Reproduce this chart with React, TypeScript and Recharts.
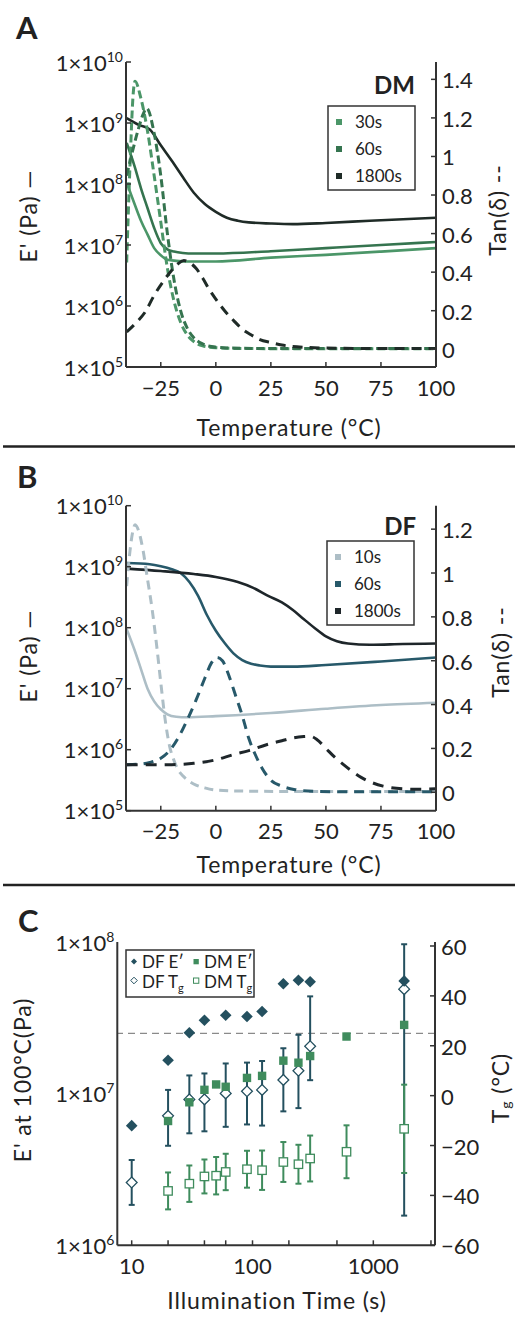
import React from 'react';
import { ComposedChart, Line, Scatter, XAxis, YAxis, ErrorBar, ReferenceLine } from 'recharts';

const FONT = 'Lato, "Open Sans", sans-serif';
const INK = '#222';
const AXIS = '#333';
const TICK_SIZE = 22;
const TITLE_SIZE = 23;

// ---- Panel A (DM) : storage modulus E' (Pa) vs temperature ----
const dm30Temp = [-40.5, -37, -34, -31, -28, -25, -22, -18, -13, 0, 25, 50, 75, 100];
const dm30Modulus = [1.05e8, 4.8e7, 2.5e7, 1.48e7, 8.9e6, 6.8e6, 5.75e6, 5.5e6, 5.37e6, 5.37e6, 6.2e6, 6.9e6, 7.8e6, 8.9e6];
const dm60Temp = [-40.5, -37, -34, -31, -28, -25, -22, -19, -15, -10, 0, 25, 50, 75, 100];
const dm60Modulus = [4.7e8, 2.0e8, 8.5e7, 4.0e7, 1.9e7, 1.07e7, 8.5e6, 7.8e6, 7.4e6, 7.25e6, 7.25e6, 7.9e6, 8.9e6, 1.0e7, 1.12e7];
const dm1800Temp = [-40.5, -35, -30, -25, -20, -15, -10, -5, 0, 5, 10, 15, 25, 35, 50, 70, 100];
const dm1800Modulus = [1.2e9, 9.3e8, 7.8e8, 4.3e8, 2.4e8, 1.3e8, 7.2e7, 4.7e7, 3.5e7, 2.8e7, 2.5e7, 2.35e7, 2.25e7, 2.2e7, 2.3e7, 2.5e7, 2.8e7];

// Panel A tan(delta)
const dm30TanTemp = [-40.5, -39, -37.5, -36.7, -34, -31, -28, -25, -22, -19, -16, -13, -10, -6, 0, 10, 30, 60, 100];
const dm30Tan = [0.45, 0.95, 1.33, 1.39, 1.3, 1.13, 0.9, 0.66, 0.42, 0.25, 0.14, 0.075, 0.04, 0.018, 0.008, 0.004, 0.003, 0.003, 0.003];
const dm60TanTemp = [-40.5, -38, -35, -33, -31.4, -28, -25, -22, -19, -16, -13, -10, -6, -2, 5, 20, 50, 100];
const dm60Tan = [0.9, 1.02, 1.15, 1.22, 1.25, 1.12, 0.9, 0.6, 0.36, 0.2, 0.11, 0.06, 0.028, 0.014, 0.007, 0.004, 0.004, 0.004];
const dm1800TanTemp = [-40.5, -36, -32, -28, -24, -20, -17, -14.5, -12, -9, -6, -3, 0, 4, 8, 12, 16, 20, 25, 30, 38, 50, 70, 100];
const dm1800Tan = [0.09, 0.14, 0.195, 0.28, 0.35, 0.41, 0.445, 0.46, 0.45, 0.42, 0.37, 0.31, 0.26, 0.2, 0.15, 0.105, 0.075, 0.05, 0.035, 0.022, 0.012, 0.006, 0.004, 0.004];

// ---- Panel B (DF) ----
const df10Temp = [-40.5, -37, -34, -31, -28, -25, -22, -18, -13, 0, 25, 50, 75, 100];
const df10Modulus = [9.5e7, 4.4e7, 2.1e7, 1.0e7, 6.2e6, 4.6e6, 3.8e6, 3.47e6, 3.4e6, 3.55e6, 4.0e6, 4.7e6, 5.4e6, 5.9e6];
const df60Temp = [-40.5, -30, -25, -20, -16, -12, -8, -4, 0, 4, 8, 12, 16, 20, 25, 35, 50, 75, 100];
const df60Modulus = [1.15e9, 1.1e9, 1.02e9, 9.1e8, 7.9e8, 5.6e8, 3.3e8, 1.6e8, 8.9e7, 5.6e7, 3.8e7, 2.95e7, 2.57e7, 2.4e7, 2.3e7, 2.3e7, 2.45e7, 2.8e7, 3.25e7];
const df1800Temp = [-40.5, -25, -10, 0, 10, 17, 24, 30, 35, 40, 45, 50, 55, 60, 70, 85, 100];
const df1800Modulus = [9.3e8, 8.5e8, 7.6e8, 6.8e8, 5.6e8, 4.5e8, 3.3e8, 2.6e8, 1.95e8, 1.38e8, 9.8e7, 7.2e7, 6.0e7, 5.5e7, 5.25e7, 5.4e7, 5.5e7];

const df10TanTemp = [-40.5, -39, -37.5, -36.7, -35, -33, -31, -29, -27, -25, -23, -21, -19, -17, -15, -12, -9, -5, 0, 10, 30, 60, 100];
const df10Tan = [0.94, 1.1, 1.2, 1.22, 1.19, 1.1, 0.97, 0.84, 0.68, 0.5, 0.33, 0.21, 0.145, 0.1, 0.075, 0.05, 0.033, 0.02, 0.01, 0.006, 0.004, 0.004, 0.004];
const df60TanTemp = [-40.5, -35, -30, -25, -21, -17, -13, -9, -5, -2, 0.5, 3, 6, 9, 12, 15, 18, 21, 25, 30, 36, 45, 60, 100];
const df60Tan = [0.126, 0.128, 0.136, 0.155, 0.19, 0.25, 0.33, 0.42, 0.52, 0.59, 0.615, 0.6, 0.53, 0.44, 0.35, 0.245, 0.17, 0.11, 0.055, 0.028, 0.012, 0.004, 0.002, 0.002];
const df1800TanTemp = [-40.5, -30, -20, -10, 0, 8, 15, 23, 30, 35, 40, 43, 46, 50, 54, 58, 62, 66, 70, 76, 82, 90, 100];
const df1800Tan = [0.126, 0.125, 0.126, 0.132, 0.148, 0.172, 0.19, 0.217, 0.235, 0.248, 0.254, 0.255, 0.24, 0.2, 0.16, 0.126, 0.095, 0.068, 0.048, 0.028, 0.018, 0.014, 0.016];

// ---- Panel C : E' at 100 C and Tg vs illumination time ----
const dfTimes = [10, 20, 30, 40, 60, 90, 120, 180, 240, 300, 1800];
const dfModulus = [6.15e6, 1.66e7, 2.52e7, 3.05e7, 3.29e7, 3.23e7, 3.48e7, 5.3e7, 5.59e7, 5.47e7, 5.54e7];
const dfTg = [-34.8, -8.1, -1.5, -1.5, 0.9, 1.75, 2.3, 6.3, 10, 19.8, 42.7];
const dfTgErrLow = [9, 12, 13.6, 12.8, 13.4, 13.3, 14.3, 12.6, 15, 13.6, 90.8];
const dfTgErrHigh = [9, 10.4, 9.6, 10.4, 12, 11.5, 11.6, 12.7, 14.4, 20, 18];
const dmTimes = [20, 30, 40, 50, 60, 90, 120, 180, 240, 300, 600, 1800];
const dmModulus = [6.6e6, 8.77e6, 1.06e7, 1.15e7, 1.11e7, 1.27e7, 1.31e7, 1.65e7, 1.6e7, 1.77e7, 2.38e7, 2.84e7];
const dmTg = [-38.2, -35.3, -32.4, -32.1, -30.6, -29.5, -29.9, -26.6, -27.5, -25.2, -22.5, -13.3];
const dmTgErr = [7.4, 7.3, 6.8, 7.5, 7.3, 7.4, 7.9, 8, 7.8, 9.2, 10.6, 17.7];

// ticks
const tempTicks = [-25, 0, 25, 50, 75, 100];
const modulusTicks = [1e5, 1e6, 1e7, 1e8, 1e9, 1e10];
const tanTicksA = [0, 0.2, 0.4, 0.6, 0.8, 1, 1.2, 1.4];
const tanTicksB = [0, 0.2, 0.4, 0.6, 0.8, 1, 1.2];
const timeTicks = [10, 20, 30, 40, 50, 60, 70, 80, 90, 100, 200, 300, 400, 500, 600, 700, 800, 900, 1000, 2000, 3000];
const timeLabels = [10, 100, 1000];
const eTicksC = [1e6, 1e7, 1e8];
const tgTicks = [-60, -40, -20, 0, 20, 40, 60];

const DM30 = '#4b9668';
const DM60 = '#35744f';
const DM1800 = '#1f2b27';
const DF10 = '#adbec6';
const DF60 = '#27596a';
const DF1800 = '#1e262a';
const DF_MARK = '#24505f';
const DM_MARK = '#3f8c5d';

const rows = (xs: number[], ys: number[]) => xs.map((t, i) => ({ t, v: ys[i] }));
const minus = (v: number) => String(v).replace('-', '\u2212');

const PowerTick = ({ x, y, payload }: any) => (
  <text x={x - 3} y={y + 8.5} textAnchor="end" fontFamily={FONT} fontSize={TICK_SIZE} fill={INK}>
    1×10
    <tspan dy={-9} fontSize={14}>{Math.round(Math.log10(payload.value))}</tspan>
  </text>
);

const RightTick = ({ x, y, payload }: any) => (
  <text x={x + 6} y={y + 9} textAnchor="start" fontFamily={FONT} fontSize={TICK_SIZE} fill={INK}>
    {minus(payload.value)}
  </text>
);

// labels only for the listed values (log axis has unlabelled minor ticks)
const makeBottomTick = (labelled?: number[]) => ({ x, y, payload }: any) => {
  const v = payload.value;
  if (labelled && !labelled.includes(v)) return <g />;
  return (
    <text x={x} y={y + 28.5} textAnchor="middle" fontFamily={FONT} fontSize={TICK_SIZE} fill={INK}>
      {minus(v)}
    </text>
  );
};
const TempTick = makeBottomTick();
const TimeTick = makeBottomTick(timeLabels);

type Curve = { temp: number[]; values: number[]; color: string; axis: 'mod' | 'tan'; dash?: string };

const tickProps = { tickSize: -5, tickMargin: 5, tickLine: { stroke: AXIS, strokeWidth: 1.5 }, axisLine: { stroke: AXIS, strokeWidth: 2 } };

const DmaPanel = ({ curves, tanDomain, tanTicks, height, top }: { curves: Curve[]; tanDomain: number[]; tanTicks: number[]; height: number; top: number }) => (
  <ComposedChart width={515} height={height} margin={{ top, right: 29, bottom: height - top - 305 - 40, left: 46 }}>
    <XAxis dataKey="t" type="number" domain={[-40.8, 100]} ticks={tempTicks} allowDataOverflow height={40} tick={<TempTick />} {...tickProps} />
    <XAxis xAxisId="top" orientation="top" type="number" domain={[0, 1]} height={0} tick={false} tickLine={false} axisLine={{ stroke: AXIS, strokeWidth: 2 }} />
    <YAxis yAxisId="mod" scale="log" type="number" domain={[1e5, 1e10]} ticks={modulusTicks} allowDataOverflow width={80} tick={<PowerTick />} {...tickProps} />
    <YAxis yAxisId="tan" orientation="right" type="number" domain={tanDomain} ticks={tanTicks} allowDataOverflow width={50} tick={<RightTick />} {...tickProps} />
    {curves.map((c, i) => (
      <Line
        key={i}
        yAxisId={c.axis}
        data={rows(c.temp, c.values)}
        dataKey="v"
        type="monotone"
        stroke={c.color}
        strokeWidth={c.dash ? 3 : 2.6}
        strokeDasharray={c.dash}
        dot={false}
        isAnimationActive={false}
      />
    ))}
  </ComposedChart>
);

const curvesA: Curve[] = [
  { temp: dm30Temp, values: dm30Modulus, color: DM30, axis: 'mod' },
  { temp: dm60Temp, values: dm60Modulus, color: DM60, axis: 'mod' },
  { temp: dm1800Temp, values: dm1800Modulus, color: DM1800, axis: 'mod' },
  { temp: dm30TanTemp, values: dm30Tan, color: DM30, axis: 'tan', dash: '8 4' },
  { temp: dm60TanTemp, values: dm60Tan, color: DM60, axis: 'tan', dash: '8 4' },
  { temp: dm1800TanTemp, values: dm1800Tan, color: DM1800, axis: 'tan', dash: '10 7' },
];

const curvesB: Curve[] = [
  { temp: df10Temp, values: df10Modulus, color: DF10, axis: 'mod' },
  { temp: df60Temp, values: df60Modulus, color: DF60, axis: 'mod' },
  { temp: df1800Temp, values: df1800Modulus, color: DF1800, axis: 'mod' },
  { temp: df10TanTemp, values: df10Tan, color: DF10, axis: 'tan', dash: '9 6' },
  { temp: df60TanTemp, values: df60Tan, color: DF60, axis: 'tan', dash: '10 7' },
  { temp: df1800TanTemp, values: df1800Tan, color: DF1800, axis: 'tan', dash: '11 8' },
];

const diamond = (cx: number, cy: number, r: number) => `M${cx},${cy - r}L${cx + r},${cy}L${cx},${cy + r}L${cx - r},${cy}Z`;

const FilledDiamond = ({ cx, cy }: any) => <path d={diamond(cx, cy, 5.8)} fill={DF_MARK} />;
const OpenDiamond = ({ cx, cy }: any) => <path d={diamond(cx, cy, 5.4)} fill="#fff" stroke={DF_MARK} strokeWidth={1.3} />;
const FilledSquare = ({ cx, cy }: any) => <rect x={cx - 4.2} y={cy - 4.2} width={8.4} height={8.4} fill={DM_MARK} />;
const OpenSquare = ({ cx, cy }: any) => <rect x={cx - 4.2} y={cy - 4.2} width={8.4} height={8.4} fill="#fff" stroke={DM_MARK} strokeWidth={1.3} />;

const dfModRows = dfTimes.map((time, i) => ({ time, value: dfModulus[i] }));
const dmModRows = dmTimes.map((time, i) => ({ time, value: dmModulus[i] }));
const dfTgRows = dfTimes.map((time, i) => ({ time, value: dfTg[i], err: [dfTgErrLow[i], dfTgErrHigh[i]] }));
const dmTgRows = dmTimes.map((time, i) => ({ time, value: dmTg[i], err: dmTgErr[i] }));

const PanelC = () => (
  <ComposedChart width={515} height={432} margin={{ top: 57, right: 30, bottom: 31.7, left: 37.3 }}>
    <XAxis dataKey="time" type="number" scale="log" domain={[7.6, 3240]} ticks={timeTicks} allowDataOverflow height={40} tick={<TimeTick />} {...tickProps} />
    <XAxis xAxisId="top" orientation="top" type="number" domain={[0, 1]} height={0} tick={false} tickLine={false} axisLine={{ stroke: AXIS, strokeWidth: 2 }} />
    <YAxis yAxisId="mod" scale="log" type="number" domain={[1e6, 1e8]} ticks={eTicksC} allowDataOverflow width={80} tick={<PowerTick />} {...tickProps} tickLine={false} />
    <YAxis yAxisId="tg" orientation="right" type="number" domain={[-60, 61.6]} ticks={tgTicks} allowDataOverflow width={50} tick={<RightTick />} {...tickProps} />
    <ReferenceLine yAxisId="tg" y={25} stroke="#8a8a8a" strokeWidth={1.2} strokeDasharray="7 5" />
    <Scatter yAxisId="tg" data={dfTgRows} dataKey="value" shape={<OpenDiamond />} isAnimationActive={false}>
      <ErrorBar dataKey="err" direction="y" width={3} stroke={DF_MARK} strokeWidth={2} />
    </Scatter>
    <Scatter yAxisId="tg" data={dmTgRows} dataKey="value" shape={<OpenSquare />} isAnimationActive={false}>
      <ErrorBar dataKey="err" direction="y" width={3} stroke={DM_MARK} strokeWidth={2} />
    </Scatter>
    <Scatter yAxisId="mod" data={dmModRows} dataKey="value" shape={<FilledSquare />} isAnimationActive={false} />
    <Scatter yAxisId="mod" data={dfModRows} dataKey="value" shape={<FilledDiamond />} isAnimationActive={false} />
  </ComposedChart>
);

const LegendSwatches = ({ x, y, items }: { x: number; y: number; items: { label: string; color: string }[] }) => (
  <g>
    <rect x={x} y={y} width={87} height={84} fill="#fff" stroke={AXIS} strokeWidth={1.5} />
    {items.map((it, i) => (
      <g key={it.label}>
        <rect x={x + 8} y={y + 13 + i * 27} width={6} height={6} fill={it.color} />
        <text x={x + 27} y={y + 22 + i * 27} fontSize={17} fill={INK}>{it.label}</text>
      </g>
    ))}
  </g>
);

const titleProps = { fontSize: TITLE_SIZE, letterSpacing: 0.9, fill: INK };
const vTitle = (x: number, y: number) => ({ transform: `translate(${x},${y}) rotate(-90)`, textAnchor: 'middle', dominantBaseline: 'central', ...titleProps });

const Annotations = () => (
  <svg width={515} height={1317} style={{ position: 'absolute', left: 0, top: 0, pointerEvents: 'none' }} fontFamily={FONT}>
    {/* panel A */}
    <text x={16} y={39} fontSize={31} fontWeight={700} fill={INK}>A</text>
    <text x={415} y={94} fontSize={24} fontWeight={700} textAnchor="end" fill={INK}>DM</text>
    <LegendSwatches x={328} y={106} items={[{ label: '30s', color: DM30 }, { label: '60s', color: DM60 }, { label: '1800s', color: DM1800 }]} />
    <text {...(vTitle(28, 216) as any)}>E' (Pa) —</text>
    <text {...(vTitle(497, 210) as any)}>Tan(δ) --</text>
    <text x={289} y={436} textAnchor="middle" {...titleProps}>Temperature (°C)</text>
    <line x1={3} x2={515} y1={446.5} y2={446.5} stroke={INK} strokeWidth={2.5} />

    {/* panel B */}
    <text x={17} y={488} fontSize={31} fontWeight={700} fill={INK}>B</text>
    <text x={416} y={535} fontSize={24} fontWeight={700} textAnchor="end" fill={INK}>DF</text>
    <LegendSwatches x={327} y={541} items={[{ label: '10s', color: DF10 }, { label: '60s', color: DF60 }, { label: '1800s', color: DF1800 }]} />
    <text {...(vTitle(28, 656) as any)}>E' (Pa) —</text>
    <text {...(vTitle(500, 652) as any)}>Tan(δ) --</text>
    <text x={289} y={873} textAnchor="middle" {...titleProps}>Temperature (°C)</text>
    <line x1={3} x2={515} y1={885} y2={885} stroke={INK} strokeWidth={2.5} />

    {/* panel C */}
    <text x={18} y={932} fontSize={31} fontWeight={700} fill={INK}>C</text>
    <rect x={126} y={950} width={128} height={47} fill="#fff" stroke={AXIS} strokeWidth={1.5} />
    <path d={diamond(134, 961.5, 3)} fill={DF_MARK} />
    <text x={142} y={968} fontSize={17} fill={INK}>DF E′</text>
    <rect x={193.5} y={959} width={5.3} height={5.3} fill={DM_MARK} />
    <text x={204} y={968} fontSize={17} fill={INK}>DM E′</text>
    <path d={diamond(134, 980.5, 3.3)} fill="#fff" stroke={DF_MARK} strokeWidth={1} />
    <text x={142} y={987.5} fontSize={17} fill={INK}>DF T<tspan dy={4} fontSize={11}>g</tspan></text>
    <rect x={193.5} y={978} width={5.3} height={5.3} fill="#fff" stroke={DM_MARK} strokeWidth={1} />
    <text x={204} y={987.5} fontSize={17} fill={INK}>DM T<tspan dy={4} fontSize={11}>g</tspan></text>
    <text {...(vTitle(22, 1080) as any)}>E' at 100°C(Pa)</text>
    <text {...(vTitle(500, 1088) as any)}>
      T<tspan dy={5} fontSize={14}>g</tspan><tspan dy={-5}> (°C)</tspan>
    </text>
    <text x={277} y={1309} textAnchor="middle" {...titleProps}>Illumination Time (s)</text>
  </svg>
);

export default function App() {
  return (
    <div style={{ position: 'absolute', left: 0, top: 0, width: 515, height: 1317, background: '#fff', overflow: 'hidden', fontFamily: FONT }}>
      <div style={{ position: 'absolute', left: 0, top: 0 }}>
        <DmaPanel curves={curvesA} tanDomain={[-0.092, 1.49]} tanTicks={tanTicksA} height={445} top={62} />
      </div>
      <div style={{ position: 'absolute', left: 0, top: 445 }}>
        <DmaPanel curves={curvesB} tanDomain={[-0.084, 1.307]} tanTicks={tanTicksB} height={440} top={60.7} />
      </div>
      <div style={{ position: 'absolute', left: 0, top: 885 }}>
        <PanelC />
      </div>
      <Annotations />
    </div>
  );
}
